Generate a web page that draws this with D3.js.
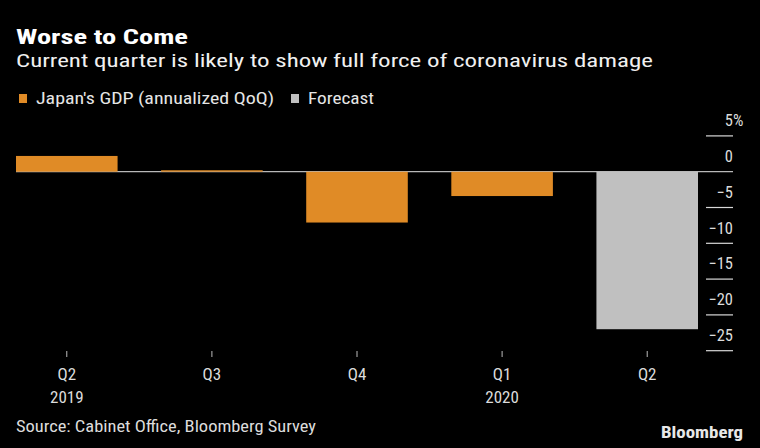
<!DOCTYPE html>
<html>
<head>
<meta charset="utf-8">
<script src="https://cdn.jsdelivr.net/npm/d3@7"></script>
<style>
  html, body { margin: 0; padding: 0; background: #000; }
  svg { display: block; }
  text { font-family: "Liberation Sans Narrow", "Roboto Condensed", "Roboto", "Liberation Sans", sans-serif; }
</style>
</head>
<body>
<div id="chart"></div>
<script>
const categories = ["Q2 2019", "Q3 2019", "Q4 2019", "Q1 2020", "Q2 2020"];
const quarterLabels = ["Q2", "Q3", "Q4", "Q1", "Q2"];
const yearLabels = ["2019", "", "", "2020", ""];
const gdpValues = [2.2, 0.2, -7.1, -3.4, null];
const forecastValues = [null, null, null, null, -22.0];
const yTicks = [5, 0, -5, -10, -15, -20, -25];
const seriesNames = ["Japan's GDP (annualized QoQ)", "Forecast"];
const seriesColors = ["#e08b26", "#c0c0c0"];

const W = 760, H = 448;
const svg = d3.select("#chart").append("svg").attr("width", W).attr("height", H);
svg.append("rect").attr("width", W).attr("height", H).attr("fill", "#000");

// fit text to a target width
function fit(sel, w) {
  const n = sel.node();
  const cur = n.getComputedTextLength();
  if (cur > 0 && Math.abs(cur - w) > 1) {
    sel.attr("textLength", w).attr("lengthAdjust", "spacingAndGlyphs");
  }
  return sel;
}

// Title & subtitle
fit(svg.append("text").attr("x", 16).attr("y", 43.5)
  .attr("fill", "#fff").attr("font-size", 20).attr("font-weight", "bold")
  .text("Worse to Come"), 172);
fit(svg.append("text").attr("x", 16).attr("y", 67)
  .attr("fill", "#f0f0f0").attr("font-size", 18)
  .text("Current quarter is likely to show full force of coronavirus damage"), 637);

// Legend
const legX = [19, 291];
const legTextW = [238, 66];
seriesNames.forEach((name, i) => {
  svg.append("rect").attr("x", legX[i]).attr("y", 94).attr("width", 8).attr("height", 9)
    .attr("fill", seriesColors[i]);
  fit(svg.append("text").attr("x", legX[i] + 17).attr("y", 104.3)
    .attr("fill", "#e6e6e6").attr("font-size", 16).text(name), legTextW[i]);
});

// Scales
const x = d3.scaleBand().domain(categories).range([16, 698]).paddingInner(0.3).paddingOuter(0);
const y = d3.scaleLinear().domain([5, -25]).range([135.9, 350.7]);

// Y grid ticks and labels
const axisRight = 733, tickLeft = 706;
yTicks.forEach(t => {
  if (t !== 0) {
    svg.append("line").attr("x1", tickLeft).attr("x2", axisRight)
      .attr("y1", y(t)).attr("y2", y(t)).attr("stroke", "#d8d8d8").attr("stroke-width", 1.2);
  }
  svg.append("text").attr("x", axisRight).attr("y", y(t) - 9.8)
    .attr("text-anchor", "end").attr("fill", "#dcdcdc").attr("font-size", 16.5)
    .text(d3.format("d")(t));
  if (t === yTicks[0]) {
    svg.append("text").attr("x", axisRight).attr("y", y(t) - 9.8)
      .attr("text-anchor", "start").attr("fill", "#dcdcdc").attr("font-size", 16.5).text("%");
  }
});

// Zero line
svg.append("line").attr("x1", 16).attr("x2", axisRight)
  .attr("y1", y(0)).attr("y2", y(0)).attr("stroke", "#b8b8b8").attr("stroke-width", 1.3);

// Bars
function drawBars(values, color) {
  const data = categories.map((c, i) => ({ c, v: values[i] })).filter(d => d.v !== null);
  svg.append("g").selectAll("rect").data(data).join("rect")
    .attr("x", d => x(d.c))
    .attr("width", x.bandwidth())
    .attr("y", d => Math.min(y(d.v), y(0)))
    .attr("height", d => Math.max(Math.abs(y(d.v) - y(0)), 1))
    .attr("fill", color);
}
drawBars(gdpValues, seriesColors[0]);
drawBars(forecastValues, seriesColors[1]);

// X axis ticks and labels
categories.forEach((c, i) => {
  const cx = x(c) + x.bandwidth() / 2;
  svg.append("line").attr("x1", cx).attr("x2", cx).attr("y1", 351).attr("y2", 357)
    .attr("stroke", "#bbb").attr("stroke-width", 1);
  svg.append("text").attr("x", cx).attr("y", 379.5).attr("text-anchor", "middle")
    .attr("fill", "#dcdcdc").attr("font-size", 17).text(quarterLabels[i]);
  if (yearLabels[i]) {
    svg.append("text").attr("x", cx).attr("y", 402.5).attr("text-anchor", "middle")
      .attr("fill", "#dcdcdc").attr("font-size", 17).text(yearLabels[i]);
  }
});

// Source
fit(svg.append("text").attr("x", 16).attr("y", 431.5)
  .attr("fill", "#dcdcdc").attr("font-size", 16)
  .text("Source: Cabinet Office, Bloomberg Survey"), 300);

// Bloomberg logo text
fit(svg.append("text").attr("x", 743).attr("y", 437.5).attr("text-anchor", "end")
  .attr("fill", "#e8e8e8").attr("font-size", 16).attr("font-weight", "bold")
  .attr("font-family", "Roboto, 'Liberation Sans', sans-serif")
  .text("Bloomberg"), 82);
</script>
</body>
</html>
